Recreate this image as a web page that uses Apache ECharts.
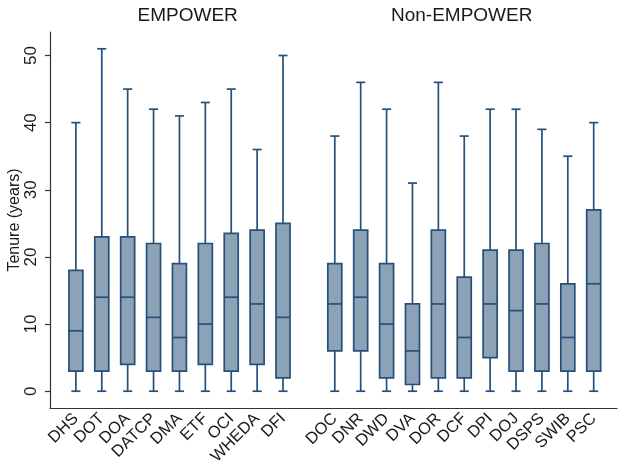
<!DOCTYPE html>
<html>
<head>
<meta charset="utf-8">
<script src="https://cdn.jsdelivr.net/npm/echarts@6/dist/echarts.min.js"></script>
<style>
  html, body { margin: 0; padding: 0; background: #fff; }
  #chart { width: 618px; height: 464px; }
</style>
</head>
<body>
<div id="chart"></div>
<script>
// Agency groups
const empowerNames = ['DHS', 'DOT', 'DOA', 'DATCP', 'DMA', 'ETF', 'OCI', 'WHEDA', 'DFI'];
const nonEmpowerNames = ['DOC', 'DNR', 'DWD', 'DVA', 'DOR', 'DCF', 'DPI', 'DOJ', 'DSPS', 'SWIB', 'PSC'];

// Tenure summaries per agency: [min, lower quartile, median, upper quartile, max]
const empowerStats = [
  [0, 3, 9, 18, 40],
  [0, 3, 14, 23, 51],
  [0, 4, 14, 23, 45],
  [0, 3, 11, 22, 42],
  [0, 3, 8, 19, 41],
  [0, 4, 10, 22, 43],
  [0, 3, 14, 23.5, 45],
  [0, 4, 13, 24, 36],
  [0, 2, 11, 25, 50]
];
const nonEmpowerStats = [
  [0, 6, 13, 19, 38],
  [0, 6, 14, 24, 46],
  [0, 2, 10, 19, 42],
  [0, 1, 6, 13, 31],
  [0, 2, 13, 24, 46],
  [0, 2, 8, 17, 38],
  [0, 5, 13, 21, 42],
  [0, 3, 12, 21, 42],
  [0, 3, 13, 22, 39],
  [0, 3, 8, 16, 35],
  [0, 3, 16, 27, 40]
];

const groupTitles = ['EMPOWER', 'Non-EMPOWER'];
const yTicks = [0, 10, 20, 30, 40, 50];

// One empty slot separates the two groups along the x axis
const slots = [...empowerNames, '', ...nonEmpowerNames];
const boxRows = [];
empowerStats.forEach((s, i) => boxRows.push([i, ...s]));
nonEmpowerStats.forEach((s, i) => boxRows.push([empowerNames.length + 1 + i, ...s]));

const FONT = '"Liberation Sans", Arial, Helvetica, sans-serif';
const TEXT = '#1a1a1a';
const FILL = '#8ca2b7';
const EDGE = '#26507a';

const chart = echarts.init(document.getElementById('chart'), null, { renderer: 'canvas' });

function renderBox(params, api) {
  const x = api.value(0);
  const pMin = api.coord([x, api.value(1)]);
  const pQ1 = api.coord([x, api.value(2)]);
  const pMed = api.coord([x, api.value(3)]);
  const pQ3 = api.coord([x, api.value(4)]);
  const pMax = api.coord([x, api.value(5)]);
  const unit = api.size([1, 0])[0];
  const halfBox = unit * 0.27;
  const halfCap = unit * 0.175;
  const cx = pMed[0];
  const line = { stroke: EDGE, lineWidth: 1.7 };
  return {
    type: 'group',
    children: [
      { type: 'line', shape: { x1: cx, y1: pQ3[1], x2: cx, y2: pMax[1] }, style: line },
      { type: 'line', shape: { x1: cx, y1: pMin[1], x2: cx, y2: pQ1[1] }, style: line },
      { type: 'line', shape: { x1: cx - halfCap, y1: pMax[1], x2: cx + halfCap, y2: pMax[1] }, style: line },
      { type: 'line', shape: { x1: cx - halfCap, y1: pMin[1], x2: cx + halfCap, y2: pMin[1] }, style: line },
      {
        type: 'rect',
        shape: { x: cx - halfBox, y: pQ3[1], width: halfBox * 2, height: pQ1[1] - pQ3[1] },
        style: { fill: FILL, stroke: EDGE, lineWidth: 1.7 }
      },
      { type: 'line', shape: { x1: cx - halfBox, y1: pMed[1], x2: cx + halfBox, y2: pMed[1] }, style: line }
    ]
  };
}

chart.setOption({
  animation: false,
  backgroundColor: '#ffffff',
  grid: { left: 50, right: 1, top: 32, bottom: 56, outerBoundsMode: 'none', containLabel: false },
  graphic: [
    {
      type: 'text', x: 187.7, y: 15.5,
      style: { text: groupTitles[0], font: '19px ' + FONT, fill: TEXT, textAlign: 'center', textVerticalAlign: 'middle' }
    },
    {
      type: 'text', x: 461.7, y: 15.5,
      style: { text: groupTitles[1], font: '19px ' + FONT, fill: TEXT, textAlign: 'center', textVerticalAlign: 'middle' }
    }
  ],
  xAxis: {
    type: 'value',
    min: -1,
    max: 20.9,
    interval: 1,
    splitLine: { show: false },
    axisLine: { show: true, onZero: false, lineStyle: { color: '#333', width: 1.2 } },
    axisTick: { show: false },
    axisLabel: {
      rotate: 45,
      margin: 8,
      fontSize: 16.5,
      fontFamily: FONT,
      color: TEXT,
      hideOverlap: false,
      showMinLabel: false,
      showMaxLabel: false,
      formatter: v => (Number.isInteger(v) && v >= 0 && v < slots.length) ? slots[v] : ''
    }
  },
  yAxis: {
    type: 'value',
    min: -2.5,
    max: 53.5,
    name: 'Tenure (years)',
    nameLocation: 'middle',
    nameGap: 27,
    nameMoveOverlap: false,
    nameTextStyle: { fontSize: 16, fontFamily: FONT, color: TEXT },
    splitLine: { show: false },
    axisLine: { show: true, onZero: false, lineStyle: { color: '#333', width: 1.2 } },
    axisTick: { show: true, length: 5, customValues: yTicks, lineStyle: { color: '#333', width: 1.2 } },
    axisLabel: {
      customValues: yTicks,
      rotate: 90,
      margin: 10,
      fontSize: 17,
      fontFamily: FONT,
      color: TEXT
    }
  },
  series: [{
    type: 'custom',
    renderItem: renderBox,
    encode: { x: 0, y: [1, 2, 3, 4, 5] },
    data: boxRows
  }]
});
</script>
</body>
</html>
